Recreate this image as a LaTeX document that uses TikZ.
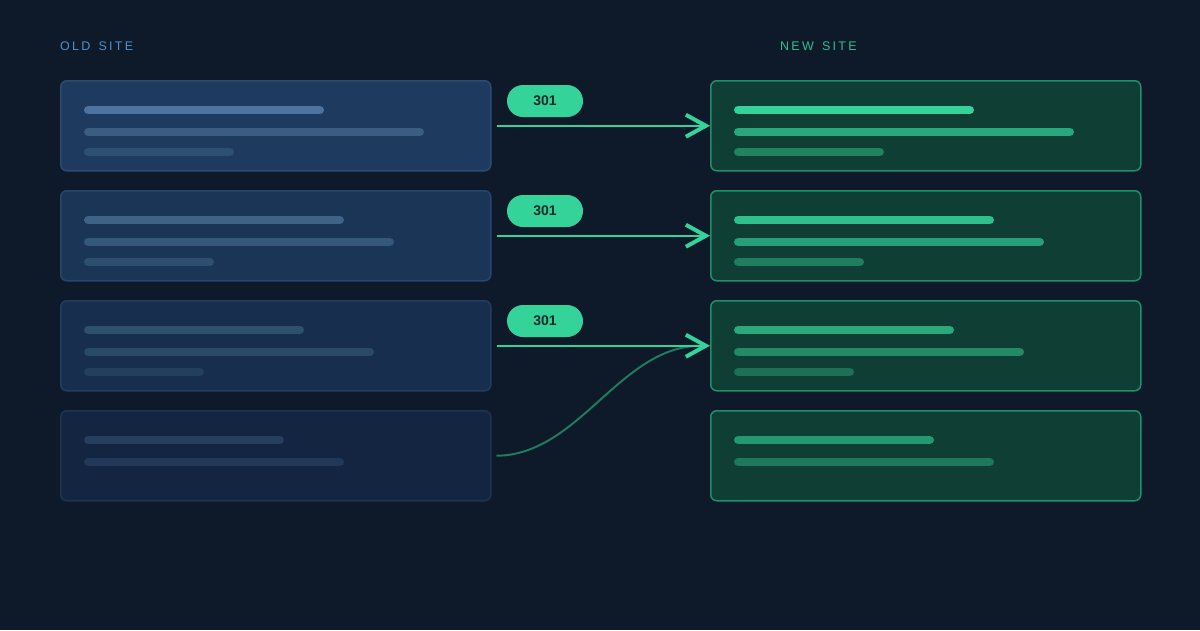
\documentclass[tikz,border=0pt]{standalone}
\usepackage{fontspec}
\setmainfont{Liberation Sans}
\usetikzlibrary{arrows.meta}
\definecolor{bg}{HTML}{0E1A2A}
\definecolor{oldlbl}{HTML}{4F8FCB}
\definecolor{newlbl}{HTML}{2FBF8F}
\definecolor{oldfA}{HTML}{1E3A5F}\definecolor{oldfB}{HTML}{1B3556}
\definecolor{oldfC}{HTML}{182E4E}\definecolor{oldfD}{HTML}{132540}
\definecolor{olddA}{HTML}{2A4C73}\definecolor{olddB}{HTML}{26466B}
\definecolor{olddC}{HTML}{213E62}\definecolor{olddD}{HTML}{1C3352}
\definecolor{newf}{HTML}{0F3E35}
\definecolor{newd}{HTML}{1F8F6C}
\definecolor{green}{HTML}{34D399}
\definecolor{curvec}{HTML}{1E7A60}
\definecolor{pilltext}{HTML}{0F2A2A}
\definecolor{lA1}{HTML}{4D74A0}\definecolor{lA2}{HTML}{3B5D82}\definecolor{lA3}{HTML}{2F5075}
\definecolor{lB1}{HTML}{3F6385}\definecolor{lB2}{HTML}{34577A}\definecolor{lB3}{HTML}{2D4F70}
\definecolor{lC1}{HTML}{30506F}\definecolor{lC2}{HTML}{2B4A6A}\definecolor{lC3}{HTML}{243F5E}
\definecolor{lD1}{HTML}{263F5C}\definecolor{lD2}{HTML}{213858}
\definecolor{rA1}{HTML}{34D399}\definecolor{rA2}{HTML}{28A87B}\definecolor{rA3}{HTML}{22835F}
\definecolor{rB1}{HTML}{2FC08C}\definecolor{rB2}{HTML}{27A077}\definecolor{rB3}{HTML}{1F7D60}
\definecolor{rC1}{HTML}{2BA87C}\definecolor{rC2}{HTML}{238A68}\definecolor{rC3}{HTML}{1D6F56}
\definecolor{rD1}{HTML}{249870}\definecolor{rD2}{HTML}{1D785C}
\tikzset{
  card/.style={rectangle, rounded corners=6pt, minimum width=430pt, minimum height=90pt, line width=1.5pt, inner sep=0pt, anchor=north west},
  bar/.style={line width=8.5pt, line cap=round, shorten <=4.25pt, shorten >=4.25pt},
  pill/.style={rectangle, rounded corners=16pt, fill=green, minimum width=76pt, minimum height=32pt, inner sep=0pt, text=pilltext, font=\fontsize{14}{16}\selectfont\bfseries},
  redirect/.style={draw=green, line width=2pt, -{Straight Barb[length=20pt,width=22pt,line width=4pt]}},
  lbl/.style={anchor=base west, inner sep=0pt, font=\fontsize{12.5}{15}\selectfont\addfontfeature{LetterSpace=18}}
}
\begin{document}
\begin{tikzpicture}[x=1pt,y=-1pt]
\fill[bg] (0,0) rectangle (1200,630);
\useasboundingbox (0,0) rectangle (1200,630);
\node[lbl, text=oldlbl] (oldlabel) at (60,50.5) {OLD\hspace{2.5pt} SITE};
\node[lbl, text=newlbl] (newlabel) at (780,50.5) {NEW\hspace{2.5pt} SITE};
% old cards
\node[card, fill=oldfA, draw=olddA] (o1) at (60,80) {};
\node[card, fill=oldfB, draw=olddB] (o2) at (60,190) {};
\node[card, fill=oldfC, draw=olddC] (o3) at (60,300) {};
\node[card, fill=oldfD, draw=olddD] (o4) at (60,410) {};
% new cards
\node[card, fill=newf, draw=newd] (n1) at (710,80) {};
\node[card, fill=newf, draw=newd] (n2) at (710,190) {};
\node[card, fill=newf, draw=newd] (n3) at (710,300) {};
\node[card, fill=newf, draw=newd] (n4) at (710,410) {};
% old bars
\draw[bar, lA1] (84,110) -- (324,110);
\draw[bar, lA2] (84,132) -- (424,132);
\draw[bar, lA3] (84,152) -- (234,152);
\draw[bar, lB1] (84,220) -- (344,220);
\draw[bar, lB2] (84,242) -- (394,242);
\draw[bar, lB3] (84,262) -- (214,262);
\draw[bar, lC1] (84,330) -- (304,330);
\draw[bar, lC2] (84,352) -- (374,352);
\draw[bar, lC3] (84,372) -- (204,372);
\draw[bar, lD1] (84,440) -- (284,440);
\draw[bar, lD2] (84,462) -- (344,462);
% new bars
\draw[bar, rA1] (734,110) -- (974,110);
\draw[bar, rA2] (734,132) -- (1074,132);
\draw[bar, rA3] (734,152) -- (884,152);
\draw[bar, rB1] (734,220) -- (994,220);
\draw[bar, rB2] (734,242) -- (1044,242);
\draw[bar, rB3] (734,262) -- (864,262);
\draw[bar, rC1] (734,330) -- (954,330);
\draw[bar, rC2] (734,352) -- (1024,352);
\draw[bar, rC3] (734,372) -- (854,372);
\draw[bar, rD1] (734,440) -- (934,440);
\draw[bar, rD2] (734,462) -- (994,462);
% curve from dropped page
\draw[curvec, line width=2pt] ([xshift=5pt]o4.east) .. controls (580,455) and (620,345) .. ([xshift=-8pt]n3.west);
% redirects
\draw[redirect, shorten <=5pt] (o1.east) -- (n1.west);
\draw[redirect, shorten <=5pt] (o2.east) -- (n2.west);
\draw[redirect, shorten <=5pt] (o3.east) -- (n3.west);
% pills
\node[pill, yshift=-1pt] (p1) at (545,100) {301};
\node[pill, yshift=-1pt] (p2) at (545,210) {301};
\node[pill, yshift=-1pt] (p3) at (545,320) {301};
\end{tikzpicture}
\end{document}
